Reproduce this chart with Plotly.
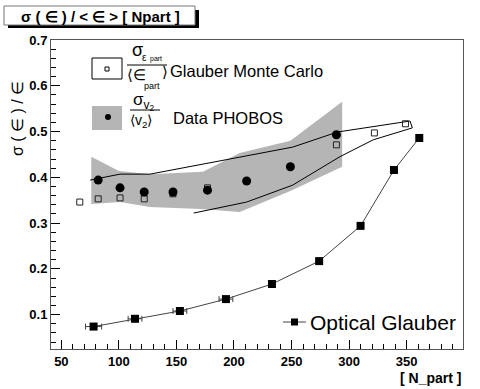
import plotly.graph_objs as go

# Optical Glauber (filled squares + line)
opt_x = [78, 114, 153, 193, 233, 274, 310, 339, 361]
opt_y = [0.074, 0.091, 0.108, 0.134, 0.167, 0.217, 0.294, 0.416, 0.486]
opt_xerr = [7, 6, 6, 6, 0, 0, 0, 0, 0]

# PHOBOS data (filled circles)
pho_x = [82, 101, 122, 147, 177, 211, 249, 289]
pho_y = [0.394, 0.377, 0.368, 0.368, 0.372, 0.392, 0.423, 0.493]

# PHOBOS systematic band (upper edge, then lower edge back)
band_x = [76, 100, 127, 173, 205, 249, 294, 294, 249, 205, 171, 127, 101, 76]
band_y = [0.445, 0.414, 0.407, 0.412, 0.453, 0.480, 0.565,
          0.423, 0.370, 0.324, 0.331, 0.335, 0.346, 0.342]

# Glauber Monte Carlo (open squares)
mc_x = [66, 82, 101, 122, 147, 177, 289, 322, 349]
mc_y = [0.346, 0.353, 0.355, 0.353, 0.364, 0.377, 0.471, 0.497, 0.517]

# Glauber MC envelope outline
env_x = [75, 101, 127, 205, 251, 290, 321, 353, 355, 321, 292, 251, 211, 165]
env_y = [0.394, 0.407, 0.407, 0.445, 0.466, 0.499, 0.510, 0.523,
         0.508, 0.482, 0.445, 0.383, 0.346, 0.322]

W, H = 480, 389
L, R, T, B = 51, 463, 40, 349


def px(x):
    return (x - L) / (R - L)


def py(y):
    return (B - y) / (B - T)


FONT = "Liberation Sans, Arial, sans-serif"

band = go.Scatter(
    x=band_x, y=band_y, fill='toself', fillcolor='#b5b5b5',
    line=dict(width=0), mode='lines', hoverinfo='skip')

envelope = go.Scatter(
    x=env_x, y=env_y, mode='lines',
    line=dict(color='black', width=1))

mc = go.Scatter(
    x=mc_x, y=mc_y, mode='markers',
    marker=dict(symbol='square-open', size=6, color='#222',
                line=dict(width=1)))

phobos = go.Scatter(
    x=pho_x, y=pho_y, mode='markers',
    marker=dict(symbol='circle', size=9, color='black'))

optical = go.Scatter(
    x=opt_x, y=opt_y, mode='lines+markers',
    line=dict(color='#444', width=1),
    marker=dict(symbol='square', size=8, color='black'),
    error_x=dict(type='data', array=opt_xerr, color='#444',
                 thickness=1, width=3))

data = [band, envelope, mc, phobos, optical]

shapes = [
    # title box with shadow
    dict(type='rect', xref='paper', yref='paper',
         x0=px(8), x1=px(199), y0=py(28), y1=py(10),
         fillcolor='black', line=dict(width=0)),
    dict(type='rect', xref='paper', yref='paper',
         x0=px(4), x1=px(195), y0=py(25), y1=py(6),
         fillcolor='white', line=dict(color='#777', width=1)),
    # legend symbol boxes
    dict(type='rect', xref='paper', yref='paper',
         x0=px(92), x1=px(122), y0=py(79), y1=py(58),
         fillcolor='white', line=dict(color='black', width=1)),
    dict(type='rect', xref='paper', yref='paper',
         x0=px(105), x1=px(109), y0=py(71), y1=py(67),
         fillcolor='white', line=dict(color='black', width=1)),
    dict(type='rect', xref='paper', yref='paper',
         x0=px(92), x1=px(122), y0=py(130), y1=py(106),
         fillcolor='#b5b5b5', line=dict(width=0)),
    dict(type='circle', xref='paper', yref='paper',
         x0=px(105), x1=px(111), y0=py(120), y1=py(114),
         fillcolor='black', line=dict(width=0)),
    # fraction bars
    dict(type='line', xref='paper', yref='paper',
         x0=px(127), x1=px(167), y0=py(65), y1=py(65),
         line=dict(color='black', width=1)),
    dict(type='line', xref='paper', yref='paper',
         x0=px(130), x1=px(160), y0=py(110), y1=py(110),
         line=dict(color='black', width=1)),
    # optical glauber legend
    dict(type='line', xref='paper', yref='paper',
         x0=px(283), x1=px(306), y0=py(322), y1=py(322),
         line=dict(color='#444', width=1)),
    dict(type='rect', xref='paper', yref='paper',
         x0=px(291), x1=px(298), y0=py(325.5), y1=py(318.5),
         fillcolor='black', line=dict(width=0)),
]


def ann(x, y, text, size, **kw):
    d = dict(xref='paper', yref='paper', x=px(x), y=py(y), text=text,
             showarrow=False, font=dict(family=FONT, size=size, color='black'),
             xanchor='left', yanchor='middle')
    d.update(kw)
    return d


annotations = [
    ann(100, 16, '<b>σ ( ∈ ) / < ∈ > [ Npart ]</b>', 15, xanchor='center'),
    ann(18, 119, 'σ ( ∈ ) / ∈', 16, xanchor='center', textangle=-90),
    ann(463, 378, '<b>[ N_part ]</b>', 14, xanchor='right'),
    # glauber MC legend text
    ann(130, 50, 'σ', 18),
    ann(140, 57, 'ε', 10),
    ann(148, 59, 'part', 7),
    ann(125, 74, '⟨∈', 15),
    ann(142, 86, 'part', 9),
    ann(160, 71, '⟩', 15),
    ann(168, 71, 'Glauber Monte Carlo', 16.5),
    # phobos legend text
    ann(131, 102, 'σ<sub>v<sub>2</sub></sub>', 17),
    ann(128, 121, '⟨v<sub>2</sub>⟩', 14),
    ann(171, 118, 'Data PHOBOS', 16.5),
    ann(308, 322, 'Optical Glauber', 21),
]

layout = dict(
    width=W, height=H,
    autosize=False,
    showlegend=False,
    plot_bgcolor='white',
    paper_bgcolor='white',
    margin=dict(l=L, r=W - R, t=T, b=H - B, pad=0),
    xaxis=dict(
        range=[41, 399],
        tick0=50, dtick=50,
        ticks='inside', ticklen=9, tickcolor='black',
        showline=True, linecolor='#555', linewidth=1, mirror=True,
        showgrid=False, zeroline=False,
        tickfont=dict(family=FONT, size=13, color='black', weight='bold'),
        minor=dict(dtick=10, ticks='inside', ticklen=5, tickcolor='black')),
    yaxis=dict(
        range=[0.025, 0.7],
        tick0=0.1, dtick=0.1, tickformat='.1f',
        ticks='inside', ticklen=9, tickcolor='black',
        showline=True, linecolor='#555', linewidth=1, mirror=True,
        showgrid=False, zeroline=False,
        tickfont=dict(family=FONT, size=13, color='black', weight='bold'),
        minor=dict(dtick=0.02, ticks='inside', ticklen=5, tickcolor='black')),
    shapes=shapes,
    annotations=annotations)

fig = go.Figure(data=data, layout=layout)
fig.write_html("out.html", config=dict(displayModeBar=False),
               post_script="document.body.style.margin='0px';")
